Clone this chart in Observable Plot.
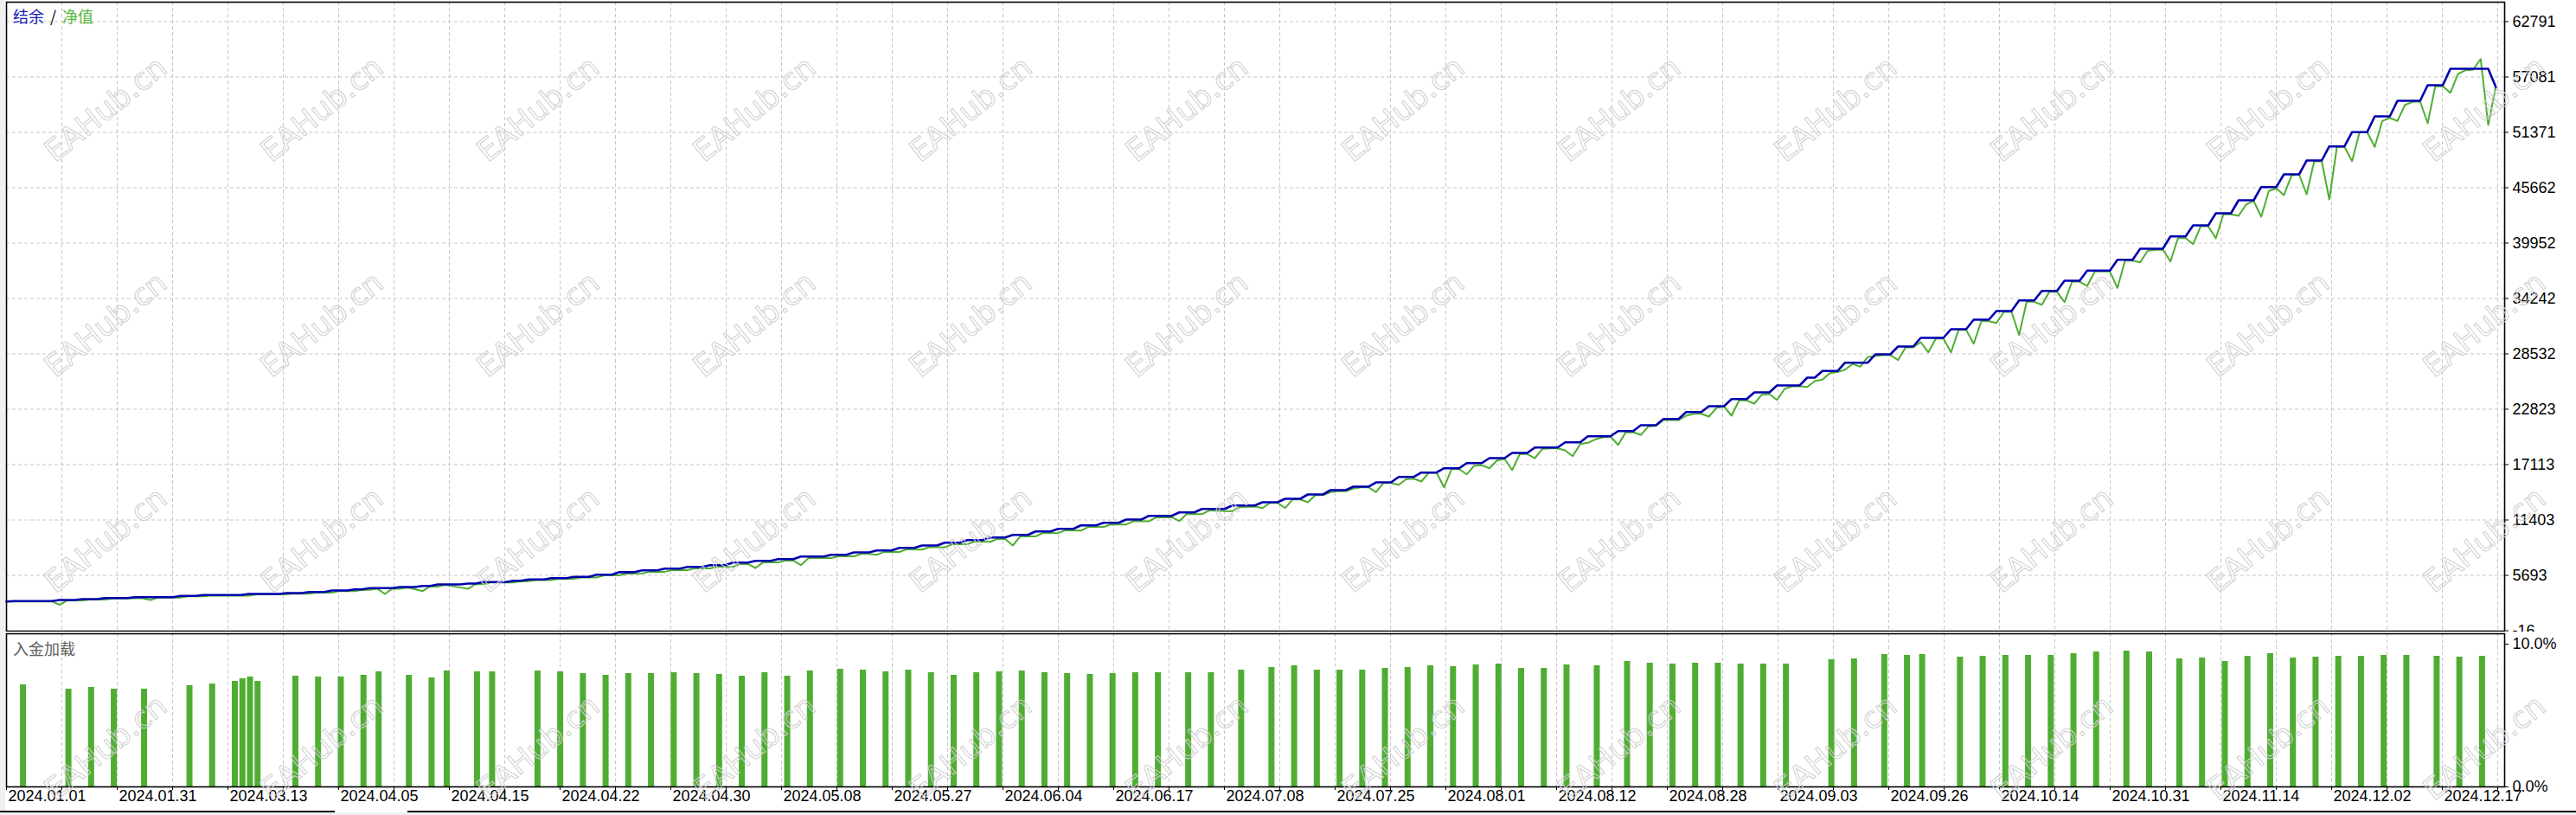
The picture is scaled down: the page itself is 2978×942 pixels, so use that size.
<!DOCTYPE html>
<html>
<head>
<meta charset="utf-8">
<script src="https://cdn.jsdelivr.net/npm/d3@7"></script>
<script src="https://cdn.jsdelivr.net/npm/@observablehq/plot@0.6"></script>
<style>
html, body { margin: 0; padding: 0; background: #fff; }
#wrap { position: relative; width: 2978px; height: 942px; overflow: hidden; background: #fff; }
#wrap > svg, #wrap > div, #wrap > span { position: absolute; }
.cjk { font-family: "Noto Sans CJK SC", sans-serif; font-size: 18px; line-height: 18px; white-space: nowrap; }
</style>
</head>
<body>
<div id="wrap"></div>
<script>
// ---------------- data ----------------
// right axis labels of the balance / equity panel
const yTickValues = [62791, 57081, 51371, 45662, 39952, 34242, 28532, 22823, 17113, 11403, 5693, -16];
// date labels under the chart (one every second axis tick)
const dateLabels = ["2024.01.01", "2024.01.31", "2024.03.13", "2024.04.05", "2024.04.15", "2024.04.22",
  "2024.04.30", "2024.05.08", "2024.05.27", "2024.06.04", "2024.06.17", "2024.07.08", "2024.07.25",
  "2024.08.01", "2024.08.12", "2024.08.28", "2024.09.03", "2024.09.26", "2024.10.14", "2024.10.31",
  "2024.11.14", "2024.12.02", "2024.12.17"];

// balance (结余): starting value, then [deal number, new balance] at every change
const balanceStart = 3000;
const balanceSteps = [
  [1,3040],[7,3151],[10,3240],[13,3356],[17,3445],[23,3570],[26,3659],[32,3775],[37,3865],[40,3981],
  [43,4132],[46,4248],[48,4373],[52,4489],[55,4605],[57,4757],[61,4846],[63,4998],[67,5140],[69,5265],
  [72,5408],[75,5533],[78,5760],[81,6020],[84,6211],[87,6389],[90,6568],[93,6746],[96,7014],[99,7192],
  [102,7371],[105,7638],[109,7817],[112,8058],[115,8263],[118,8530],[121,8771],[124,9066],[127,9333],
  [130,9601],[133,9869],[136,10225],[139,10493],[142,10850],[145,11117],[148,11447],[151,11831],
  [155,12188],[158,12545],[162,12902],[166,13232],[169,13589],[172,14035],[175,14481],[178,14837],
  [181,15283],[184,15845],[187,16292],[190,16738],[193,17273],[196,17781],[199,18317],[202,18879],
  [206,19414],[209,20038],[213,20574],[216,21171],[219,21823],[222,22536],[225,23134],[228,23874],
  [231,24561],[234,25275],[238,26078],[240,26765],[243,27620],[247,28486],[250,29289],[253,30182],
  [257,31074],[260,32055],[263,32947],[266,34045],[269,35026],[272,36069],[275,37113],[279,38237],
  [282,39370],[286,40646],[289,41779],[292,43028],[295,44366],[298,45731],[301,47042],[304,48470],
  [307,49924],[310,51387],[313,53019],[316,54625],[320,56231],[323,57926],[329,56052]
];

// equity (净值): [deal number, equity] vertices
const equityQ1 = [
  [0,2980],[1,2990],[6,3000],[7,2660],[8,3100],[10,3110],[11,3190],[13,3200],[14,3300],[17,3330],
  [18,3330],[19,3150],[20,3400],[23,3390],[24,3520],[26,3520],[27,3610],[32,3600],[33,3720],[37,3740],
  [38,3820],[40,3790],[41,3930],[43,3900],[44,4080],[46,4060],[47,4200],[48,4190],[49,4320],[50,3775],
  [51,4320],[52,4300],[53,4440],[55,4070],[56,4560],[57,4540],[58,4700],[61,4300],[62,4800],[63,4780],
  [64,4950],[67,4950],[68,5090],[69,5080],[70,5210],[72,5200],[73,5350],[75,5330],[76,5480],[78,5480],
  [79,5700],[81,5700],[82,5880]
];
const equityQ2 = [
  [84,5900],[85,6060],[87,6060],[88,6240],[90,6230],[91,6420],[93,6400],[94,6600],[96,6560],[97,6860],
  [98,6860],[99,6452],[100,7040],[102,7030],[103,7220],[104,7220],[105,6746],[106,7480],[109,7480],
  [110,7660],[112,7650],[113,7900],[114,7900],[115,7817],[116,8110],[118,8100],[119,8380],[121,8350],
  [122,8620],[124,8580],[125,8900],[127,8900],[128,9180],[130,9150],[131,9450],[132,9450],[133,8771],
  [134,9720],[136,9700],[137,10070],[139,10050],[140,10340],[142,10300],[143,10700],[145,10680],
  [146,10960],[148,10940],[149,11290],[151,11280],[152,11680],[154,11680],[155,11296],[156,12030],
  [158,12000],[159,12390],[162,12300],[163,12750]
];
const equityQ3 = [
  [165,12786],[166,12634],[167,13169],[168,13169],[169,12634],[170,13526],[171,13526],[172,13232],
  [173,13972],[174,13972],[175,14275],[176,14365],[177,14365],[178,14633],[179,14775],[180,14775],
  [181,14275],[182,15221],[183,15221],[184,15016],[185,15614],[186,15667],[187,15373],[188,16292],
  [189,16292],[190,14775],[191,16648],[192,16648],[193,16113],[194,17005],[195,17036],[196,16738],
  [197,17540],[198,17692],[199,16559],[200,18200],[201,18200],[202,17781],[203,18736],[204,18790],
  [205,18790],[206,18584],[207,17987],[208,19236],[209,19360],[210,19717],[211,19922],[212,20012],
  [213,19146],[214,20431],[215,20461],[216,20164],[217,21056],[218,21115],[219,21707],[220,21707],
  [221,21707],[222,22153],[223,22358],[224,22358],[225,22064],[226,22956],[227,23107],[228,22153],
  [229,23731],[230,23731],[231,23402],[232,24320],[233,24383],[234,23785],[235,24918],[236,25186],
  [237,25186],[238,25123],[239,25721],[240,25872],[241,26551],[242,26650],[243,26900],[244,27500],
  [245,27200],[246,28200],[247,28300]
];
const equityQ4 = [
  [248,28400],[249,28400],[250,27889],[251,29200],[252,29200],[253,29736],[254,28692],[255,30119],
  [256,30119],[257,28692],[258,31011],[259,31011],[260,29584],[261,31903],[262,31903],[263,31725],
  [264,32858],[265,32858],[266,30476],[267,33901],[268,33901],[269,33598],[270,34937],[271,34937],
  [272,33866],[273,35980],[274,35980],[275,35534],[276,37024],[277,37024],[278,37024],[279,35329],
  [280,38148],[281,38148],[282,37969],[283,39165],[284,39254],[285,39281],[286,38059],[287,40468],
  [288,40468],[289,39843],[290,41690],[291,41690],[292,40441],[293,42912],[294,42912],[295,42760],
  [296,43920],[297,44304],[298,42671],[299,45321],[300,45589],[301,44901],[302,46926],[303,47042],
  [304,44990],[305,48380],[306,48380],[307,44455],[308,49870],[309,49870],[310,48407],[311,51387],
  [312,51387],[313,49870],[314,52546],[315,52868],[316,52546],[317,54206],[318,54509],[319,54563],
  [320,52306],[321,56115],[322,56115],[323,55455],[324,57391],[325,57774],[326,57837],[327,58934],
  [328,52128],[329,56052]
];

// deposit load (入金加载): deal of each entry and load in %
const loadDeals = [2,8,11,14,18,24,27,30,31,32,33,38,41,44,47,49,53,56,58,62,64,70,73,76,79,
  82,85,88,91,94,97,100,103,106,110,113,116,119,122,125,128,131,134,137,140,143,146,149,152,156,159,163,
  167,170,173,176,179,182,185,188,191,194,197,200,203,206,210,214,217,220,223,226,229,232,235,241,244,
  248,251,253,258,261,264,267,270,273,276,280,283,287,290,293,296,299,302,305,308,311,314,317,321,324,327];
const loadPct = [7.15,6.85,6.97,6.85,6.85,7.09,7.21,7.39,7.58,7.70,7.39,7.76,7.70,7.70,7.82,8.06,7.82,7.64,8.12,8.06,8.06,8.12,8.06,7.94,7.82,
  7.94,7.94,8.00,7.94,7.88,7.76,8.00,7.76,8.12,8.24,8.18,8.06,8.18,8.00,7.82,8.00,8.06,8.12,8.00,7.94,7.88,7.94,8.00,8.00,8.00,8.00,8.18,
  8.36,8.48,8.18,8.18,8.18,8.30,8.36,8.48,8.42,8.55,8.61,8.30,8.30,8.55,8.48,8.79,8.67,8.61,8.67,8.67,8.61,8.61,8.61,8.91,8.97,
  9.27,9.21,9.27,9.09,9.15,9.21,9.21,9.21,9.33,9.45,9.52,9.45,8.97,9.03,8.79,9.15,9.33,9.03,9.09,9.15,9.15,9.21,9.21,9.15,9.09,9.15];

// ---------------- tables built from the arrays ----------------
const balance = [{deal: 0, value: balanceStart}];
let prevBal = balanceStart;
for (const [d, v] of balanceSteps) {
  balance.push({deal: d - 1, value: prevBal});
  balance.push({deal: d, value: v});
  prevBal = v;
}
const equity = [...equityQ1, ...equityQ2, ...equityQ3, ...equityQ4].map(([deal, value]) => ({deal, value}));
const load = loadDeals.map((deal, i) => ({deal, pct: loadPct[i]}));

// ---------------- layout ----------------
const W = 2978;
const ML = 7, MR = 83;               // plot area 7 .. 2895 px
const xDomain = [0, 330.17];         // deal numbers across the plot width
const tickStep = xDomain[1] * 64 / (W - ML - MR);   // one axis tick every 64 px
const xTicks = d3.range(46).map(k => k * tickStep);
const gridStyle = {stroke: "#c6c6c6", strokeDasharray: "4,3", strokeWidth: 1};
const BLUE = "#0000b0", GREEN = "#4fad32";
const font = "'Liberation Sans', Arial, sans-serif";

const wrap = document.getElementById("wrap");

const topPlot = Plot.plot({
  width: W, height: 730,
  marginLeft: ML, marginRight: MR, marginTop: 2, marginBottom: 1,
  style: {fontFamily: font, fontSize: "18px", color: "#000", background: "#fff", overflow: "hidden"},
  x: {domain: xDomain, axis: null},
  y: {domain: [-60.6, 64796], axis: "right", ticks: yTickValues, tickFormat: d => String(d),
      tickSize: 4, tickPadding: 5, label: null},
  marks: [
    Plot.ruleY(yTickValues.slice(0, -1), gridStyle),
    Plot.ruleX(xTicks.slice(1), gridStyle),
    Plot.line(equity, {x: "deal", y: "value", stroke: GREEN, strokeWidth: 2}),
    Plot.line(balance, {x: "deal", y: "value", stroke: BLUE, strokeWidth: 2.6}),
    Plot.frame({stroke: "#000", strokeWidth: 1.6})
  ]
});
topPlot.style.left = "0px"; topPlot.style.top = "0px";
wrap.appendChild(topPlot);

const botPlot = Plot.plot({
  width: W, height: 212,
  marginLeft: ML, marginRight: MR, marginTop: 2, marginBottom: 33,
  style: {fontFamily: font, fontSize: "18px", color: "#000", background: "#fff"},
  x: {domain: xDomain, axis: "bottom", ticks: xTicks, tickFormat: () => "", tickSize: 4, label: null},
  y: {domain: [0, 10.727], axis: "right", ticks: [0, 10], tickFormat: d => d.toFixed(1) + "%",
      tickSize: 4, tickPadding: 5, label: null},
  marks: [
    Plot.ruleX(xTicks.slice(1), gridStyle),
    Plot.ruleX(load, {x: "deal", y1: 0, y2: "pct", stroke: GREEN, strokeWidth: 7, dx: 1.6}),
    Plot.text(dateLabels, {x: (d, i) => i * 2 * tickStep, frameAnchor: "bottom", textAnchor: "start",
      dx: 2, dy: 16.5, fontSize: 18, fill: "#000"}),
    Plot.frame({stroke: "#000", strokeWidth: 1.6})
  ]
});
botPlot.style.left = "0px"; botPlot.style.top = "730px";
wrap.appendChild(botPlot);

// legend and panel caption
function addText(txt, left, top, color) {
  const s = document.createElement("span");
  s.className = "cjk"; s.textContent = txt;
  s.style.left = left + "px"; s.style.top = top + "px"; s.style.color = color;
  wrap.appendChild(s);
}
addText("结余", 15, 9, "#1a1ab8");
addText("/", 58, 9, "#000");
addText("净值", 72, 9, "#56b63c");
addText("入金加载", 15, 740, "#606060");

// window chrome: left strip and bottom bar
function addBox(left, top, w, h, bg) {
  const d = document.createElement("div");
  Object.assign(d.style, {left: left + "px", top: top + "px", width: w + "px", height: h + "px", background: bg});
  wrap.appendChild(d);
}
addBox(0, 0, 6, 937, "#f0f0f0");
addBox(0, 939, W, 3, "#f0f0f0");
addBox(0, 937, 387, 2, "#000");
addBox(471, 937, W - 471, 2, "#000");

// watermark overlay
const wm = d3.create("svg").attr("width", W).attr("height", 942)
  .style("left", "0px").style("top", "0px").style("pointer-events", "none");
const wmRows = [126, 375, 624, 864];
for (const y of wmRows) {
  for (let c = 0; c < 12; c++) {
    wm.append("text")
      .attr("transform", `translate(${122 + 250 * c},${y}) rotate(-39)`)
      .attr("text-anchor", "middle").attr("dominant-baseline", "central")
      .attr("font-family", "'DejaVu Sans', sans-serif").attr("font-size", 35)
      .attr("fill", "none").attr("stroke", "#d0d0d0").attr("stroke-width", 1)
      .text("EAHub.cn");
  }
}
wrap.appendChild(wm.node());
</script>
</body>
</html>
